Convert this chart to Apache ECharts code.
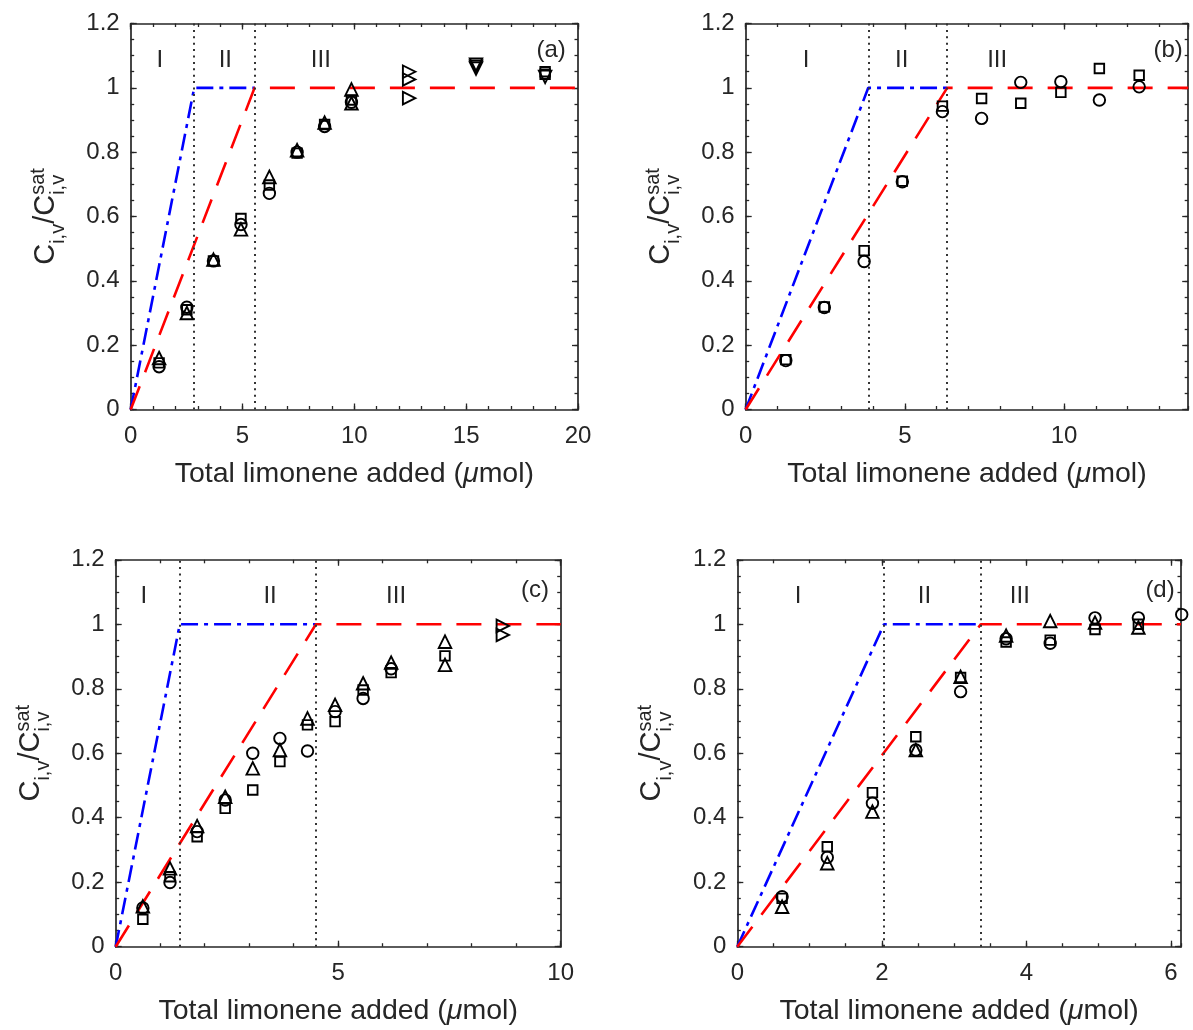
<!DOCTYPE html>
<html>
<head>
<meta charset="utf-8">
<title>Limonene vapour saturation</title>
<script src="https://cdn.jsdelivr.net/npm/echarts@6/dist/echarts.min.js"></script>
<style>
  html, body { margin: 0; padding: 0; background: #ffffff; }
  #chart { width: 1193px; height: 1030px; }
</style>
</head>
<body>
<div id="chart"></div>
<script>
// ---------- measured data: [total limonene added (umol), C/Csat] ----------
// Panel (a)
const aCircle   = [[1.27,0.133],[2.51,0.318],[3.70,0.462],[4.93,0.575],[6.20,0.672],[7.44,0.800],[8.67,0.880],[9.87,0.955]];
const aSquare   = [[1.27,0.145],[2.51,0.310],[3.70,0.462],[4.93,0.594],[6.20,0.698],[7.44,0.797],[8.67,0.886],[9.87,0.962],[18.53,1.050],[18.53,1.042]];
const aTriangle = [[1.27,0.160],[2.51,0.300],[3.70,0.466],[4.93,0.560],[6.20,0.723],[7.44,0.806],[8.67,0.892],[9.87,0.995],[9.87,0.952]];
const aRight    = [[12.45,1.050],[12.45,1.026],[12.45,0.968]];
const aDown     = [[15.44,1.072],[15.44,1.066],[15.44,1.060],[18.53,1.034]];
const aIdealX = [0, 2.84, 5.54];  const aIdealY = [0, 1, 1];
const aSatX   = [0, 5.54, 20];    const aSatY   = [0, 1, 1];
const aBounds = [2.84, 5.54];

// Panel (b)
const bCircle = [[1.26,0.152],[2.47,0.317],[3.72,0.460],[4.92,0.708],[6.18,0.926],[7.41,0.905],[8.64,1.017],[9.90,1.019],[11.11,0.962],[12.36,1.003]];
const bSquare = [[1.26,0.155],[2.47,0.319],[3.72,0.494],[4.92,0.710],[6.18,0.943],[7.41,0.967],[8.64,0.952],[9.90,0.986],[11.11,1.060],[12.36,1.039]];
const bIdealX = [0, 3.85, 6.33];  const bIdealY = [0, 1, 1];
const bSatX   = [0, 6.33, 13.9];  const bSatY   = [0, 1, 1];
const bBounds = [3.85, 6.33];

// Panel (c)
const cCircle   = [[0.61,0.120],[1.22,0.199],[1.83,0.357],[2.46,0.455],[3.08,0.600],[3.69,0.646],[4.31,0.607],[4.93,0.729],[5.56,0.770],[6.19,0.862]];
const cSquare   = [[0.61,0.085],[1.22,0.217],[1.83,0.341],[2.46,0.429],[3.08,0.486],[3.69,0.574],[4.31,0.688],[4.93,0.698],[5.56,0.796],[6.19,0.850],[7.40,0.902]];
const cTriangle = [[0.61,0.125],[1.22,0.243],[1.83,0.374],[2.46,0.465],[3.08,0.553],[3.69,0.610],[4.31,0.708],[4.93,0.750],[5.56,0.817],[6.19,0.881],[7.40,0.946],[7.40,0.874]];
const cRight    = [[8.70,0.995],[8.70,0.967]];
const cIdealX = [0, 1.44, 4.5];   const cIdealY = [0, 1, 1];
const cSatX   = [0, 4.5, 10];     const cSatY   = [0, 1, 1];
const cBounds = [1.44, 4.5];

// Panel (d)
const dCircle   = [[0.62,0.155],[1.245,0.277],[1.87,0.445],[2.47,0.610],[3.09,0.791],[3.72,0.955],[4.33,0.941],[4.95,1.020],[5.55,1.020],[6.15,1.030]];
const dSquare   = [[0.62,0.150],[1.245,0.310],[1.87,0.478],[2.47,0.651],[3.09,0.835],[3.72,0.945],[4.33,0.951],[4.95,0.984],[5.55,1.000]];
const dTriangle = [[0.62,0.124],[1.245,0.259],[1.87,0.419],[2.47,0.610],[3.09,0.837],[3.72,0.965],[4.33,1.010],[4.95,1.005],[5.55,0.990]];
const dIdealX = [0, 2.03, 3.37];  const dIdealY = [0, 1, 1];
const dSatX   = [0, 3.37, 6.14];  const dSatY   = [0, 1, 1];
const dBounds = [2.03, 3.37];

// Axis ticks
const yTicksMajor = 0.2, yTicksMinor = 0.05, yMax = 1.2;
const regionNames = ['I', 'II', 'III'];

// ---------- styling ----------
const FONT = '"Liberation Sans", Arial, Helvetica, sans-serif';
const INK = '#262626';
const TICK_FS = 24;
const NAME_FS = 28.5;

const zip = (xs, ys) => xs.map((x, i) => [x, ys[i]]);

const panels = [
  { tag: '(a)', box: { left: 130.7, top: 23.5, width: 447.3, height: 386 },
    xMax: 20, xMajor: 5, xMinor: 1,
    circle: aCircle, square: aSquare, triangle: aTriangle, right: aRight, down: aDown,
    ideal: zip(aIdealX, aIdealY), sat: zip(aSatX, aSatY), bounds: aBounds,
    regionX: [1.3, 4.23, 8.5], tagPos: [18.8, 1.116] },
  { tag: '(b)', box: { left: 745.7, top: 23.5, width: 442.5, height: 386 },
    xMax: 13.9, xMajor: 5, xMinor: 1,
    circle: bCircle, square: bSquare, triangle: [], right: [], down: [],
    ideal: zip(bIdealX, bIdealY), sat: zip(bSatX, bSatY), bounds: bBounds,
    regionX: [1.9, 4.9, 7.9], tagPos: [13.27, 1.116] },
  { tag: '(c)', box: { left: 115.7, top: 559.8, width: 445, height: 386.9 },
    xMax: 10, xMajor: 5, xMinor: 1,
    circle: cCircle, square: cSquare, triangle: cTriangle, right: cRight, down: [],
    ideal: zip(cIdealX, cIdealY), sat: zip(cSatX, cSatY), bounds: cBounds,
    regionX: [0.63, 3.47, 6.3], tagPos: [9.42, 1.105] },
  { tag: '(d)', box: { left: 737.3, top: 559.8, width: 443.7, height: 386.9 },
    xMax: 6.14, xMajor: 2, xMinor: 0.5,
    circle: dCircle, square: dSquare, triangle: dTriangle, right: [], down: [],
    ideal: zip(dIdealX, dIdealY), sat: zip(dSatX, dSatY), bounds: dBounds,
    regionX: [0.84, 2.59, 3.91], tagPos: [5.85, 1.105] }
];

const option = {
  animation: false,
  backgroundColor: '#ffffff',
  textStyle: { fontFamily: FONT, color: INK },
  grid: [], xAxis: [], yAxis: [], series: [], graphic: []
};

function boxAxis(gridIndex, position, max, interval, major, extra) {
  return Object.assign({
    type: 'value', gridIndex, position, min: 0, max, interval,
    axisLine: { show: major, onZero: false, lineStyle: { color: INK, width: 1.7 } },
    axisTick: { show: true, inside: true, length: major ? 6 : 3.5, lineStyle: { color: INK, width: 1.3 } },
    axisLabel: { show: false },
    splitLine: { show: false },
    minorTick: { show: false }
  }, extra || {});
}

const markerStyle = { color: 'rgba(0,0,0,0)', borderColor: '#000000', borderWidth: 1.9, opacity: 1 };

panels.forEach((p, gi) => {
  option.grid.push(Object.assign({ containLabel: false, outerBoundsMode: 'none' }, p.box));

  const xBase = option.xAxis.length;
  const yBase = option.yAxis.length;
  const showMax = Math.abs(p.xMax / p.xMajor - Math.round(p.xMax / p.xMajor)) < 1e-9;

  option.xAxis.push(boxAxis(gi, 'bottom', p.xMax, p.xMajor, true, {
    axisLabel: { show: true, fontSize: TICK_FS, color: INK, fontFamily: FONT, margin: 15, showMaxLabel: showMax },
    name: 'Total limonene added ({mu|\u03bc}mol)',
    nameLocation: 'middle', nameGap: 50,
    nameTextStyle: { fontSize: NAME_FS, color: INK, fontFamily: FONT,
      rich: { mu: { fontSize: NAME_FS, fontStyle: 'italic', color: INK, fontFamily: FONT } } }
  }));
  option.xAxis.push(boxAxis(gi, 'bottom', p.xMax, p.xMinor, false));
  option.xAxis.push(boxAxis(gi, 'top', p.xMax, p.xMajor, true));
  option.xAxis.push(boxAxis(gi, 'top', p.xMax, p.xMinor, false));

  option.yAxis.push(boxAxis(gi, 'left', yMax, yTicksMajor, true, {
    axisLabel: { show: true, fontSize: TICK_FS, color: INK, fontFamily: FONT, margin: 11 }
  }));
  option.yAxis.push(boxAxis(gi, 'left', yMax, yTicksMinor, false));
  option.yAxis.push(boxAxis(gi, 'right', yMax, yTicksMajor, true));
  option.yAxis.push(boxAxis(gi, 'right', yMax, yTicksMinor, false));

  const ax = { xAxisIndex: xBase, yAxisIndex: yBase };

  // region boundaries (dotted verticals)
  option.series.push(Object.assign({
    type: 'line', data: [], silent: true, z: 1,
    markLine: {
      silent: true, symbol: ['none', 'none'], animation: false,
      label: { show: false },
      lineStyle: { color: '#333333', width: 2, type: [2, 4.4], opacity: 1 },
      emphasis: { disabled: true },
      data: p.bounds.map(b => ({ xAxis: b }))
    }
  }, ax));

  // ideal (instant equilibrium) line and saturation-limited line
  option.series.push(Object.assign({
    type: 'line', data: p.ideal, symbol: 'none', silent: true, z: 2,
    lineStyle: { color: '#0000ff', width: 2.6, type: [17, 6, 4, 6] }
  }, ax));
  option.series.push(Object.assign({
    type: 'line', data: p.sat, symbol: 'none', silent: true, z: 3,
    lineStyle: { color: '#ff0000', width: 2.6, type: [25, 15] }
  }, ax));

  // measured points
  const scatter = (data, symbol, size, rotate) => Object.assign({
    type: 'scatter', data, symbol, symbolSize: size, symbolRotate: rotate || 0,
    itemStyle: markerStyle, clip: false, silent: true, z: 5,
    emphasis: { disabled: true }
  }, ax);
  option.series.push(scatter(p.circle, 'circle', 11.5));
  option.series.push(scatter(p.square, 'rect', 9.5));
  option.series.push(scatter(p.triangle, 'triangle', 12.5));
  option.series.push(scatter(p.right, 'triangle', 12.5, -90));
  option.series.push(scatter(p.down, 'triangle', 12.5, 180));

  // region names and panel tag
  const texts = regionNames.map((n, i) => ({ value: [p.regionX[i], 1.086], name: n }));
  texts.push({ value: p.tagPos, name: p.tag });
  option.series.push(Object.assign({
    type: 'scatter', data: texts, symbolSize: 1, silent: true, z: 6,
    itemStyle: { color: 'rgba(0,0,0,0)', opacity: 1 },
    label: { show: true, position: 'inside', formatter: '{b}', fontSize: TICK_FS, color: INK, fontFamily: FONT, opacity: 1 },
    emphasis: { disabled: true }
  }, ax));

  // y-axis title C_{i,v}/C^{sat}_{i,v}, stacked super/subscript, reading upward
  option.graphic.push(yTitle(p.box.left - 75, p.box.top + p.box.height / 2));
});

function textWidth(str, size) {
  const ctx = textWidth.ctx || (textWidth.ctx = document.createElement('canvas').getContext('2d'));
  ctx.font = size + 'px ' + FONT;
  return ctx.measureText(str).width;
}

function yTitle(baseX, centerY) {
  const big = 29, small = 20;
  const wC = textWidth('C', big);
  const wSub = textWidth('i,v', small);
  const wSlashC = textWidth('/C', big);
  const wSat = textWidth('sat', small);
  const total = wC + wSub + wSlashC + Math.max(wSat, wSub);
  const x0 = -total / 2;
  // baseline offsets (local +y is downward in text space)
  const subDrop = 10, supRise = -10;
  const piece = (text, x, baseline, size) => ({
    type: 'text', x, y: baseline - 0.35 * size, silent: true,
    style: { text, fontSize: size, fontFamily: FONT, fill: INK, align: 'left', verticalAlign: 'middle' }
  });
  return {
    type: 'group', x: baseX, y: centerY, rotation: Math.PI / 2, silent: true,
    children: [
      piece('C', x0, 0, big),
      piece('i,v', x0 + wC, subDrop, small),
      piece('/C', x0 + wC + wSub, 0, big),
      piece('sat', x0 + wC + wSub + wSlashC, supRise, small),
      piece('i,v', x0 + wC + wSub + wSlashC, subDrop, small)
    ]
  };
}

const chart = echarts.init(document.getElementById('chart'), null, { renderer: 'canvas' });
chart.setOption(option);
</script>
</body>
</html>
